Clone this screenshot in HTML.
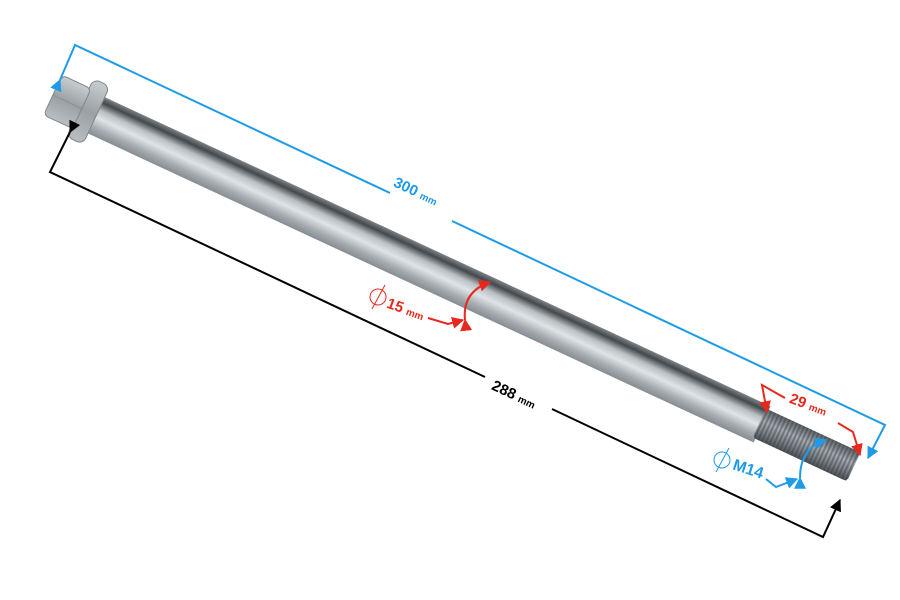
<!DOCTYPE html>
<html><head><meta charset="utf-8"><style>
html,body{margin:0;padding:0;background:#fff;}
svg{display:block;font-family:"Liberation Sans",sans-serif;font-weight:bold;}
</style></head><body>
<svg width="900" height="600" viewBox="0 0 900 600" xmlns="http://www.w3.org/2000/svg">
<defs>
<linearGradient id="rod" x1="0" y1="0" x2="0" y2="1">
<stop offset="0" stop-color="#7d8387"/>
<stop offset="0.15" stop-color="#43484c"/>
<stop offset="0.35" stop-color="#b9c0c4"/>
<stop offset="0.55" stop-color="#dfe4e6"/>
<stop offset="0.8" stop-color="#a5acb0"/>
<stop offset="1" stop-color="#868d92"/>
</linearGradient>
<linearGradient id="thr" x1="0" y1="0" x2="0" y2="1">
<stop offset="0" stop-color="#5c6166"/>
<stop offset="0.4" stop-color="#a6adb1"/>
<stop offset="0.7" stop-color="#7d8489"/>
<stop offset="1" stop-color="#4b5055"/>
</linearGradient>
<linearGradient id="hd" x1="0" y1="0" x2="0" y2="1">
<stop offset="0" stop-color="#c8cdd0"/>
<stop offset="0.5" stop-color="#9aa1a5"/>
<stop offset="1" stop-color="#b8bec1"/>
</linearGradient>
<pattern id="str" width="4" height="10" patternUnits="userSpaceOnUse">
<rect width="2" height="10" fill="#3a3e42" opacity="0.45"/>
</pattern>
<marker id="ab" viewBox="0 0 10 10" refX="9" refY="5" markerWidth="6" markerHeight="6" orient="auto"><path d="M0,0L10,5L0,10z" fill="#1e9be8"/></marker>
<marker id="ak" viewBox="0 0 10 10" refX="9" refY="5" markerWidth="6" markerHeight="6" orient="auto"><path d="M0,0L10,5L0,10z" fill="#000"/></marker>
<marker id="ar" viewBox="0 0 10 10" refX="9" refY="5" markerWidth="6" markerHeight="6" orient="auto"><path d="M0,0L10,5L0,10z" fill="#e8281e"/></marker>
</defs>

<g transform="translate(100,117) rotate(24.9)">
<rect x="-5" y="-20" width="735" height="40" fill="url(#rod)"/>
<rect x="727" y="-16" width="104" height="32" rx="4" fill="url(#thr)"/>
<rect x="727" y="-16" width="104" height="32" fill="url(#str)"/>
<rect x="-22" y="-32" width="18" height="64" rx="7" fill="url(#hd)" stroke="#80878b"/>
<rect x="-52" y="-22" width="32" height="44" rx="5" fill="url(#hd)" stroke="#80878b"/>
<line x1="-52" y1="0" x2="-20" y2="0" stroke="#8a9094"/>
</g>

<!-- blue 300 -->
<polyline points="60,80 75,45 390,193" fill="none" stroke="#1e9be8" stroke-width="2" marker-start="url(#ab)"/>
<polyline points="452,221 885,425 868,458" fill="none" stroke="#1e9be8" stroke-width="2" marker-end="url(#ab)"/>
<text x="392" y="196" font-size="15" fill="#1e9be8" transform="rotate(25 415 192)">300 <tspan font-size="10">mm</tspan></text>

<!-- black 288 -->
<polyline points="70,132 50,172 485,377" fill="none" stroke="#000" stroke-width="2" marker-start="url(#ak)"/>
<polyline points="552,409 823,537 840,500" fill="none" stroke="#000" stroke-width="2" marker-end="url(#ak)"/>
<text x="490" y="400" font-size="15" fill="#000" transform="rotate(25 515 396)">288 <tspan font-size="10">mm</tspan></text>

<!-- red 15 -->
<path d="M465,320 Q462,292 490,282" fill="none" stroke="#e8281e" stroke-width="2" marker-start="url(#ar)" marker-end="url(#ar)"/>
<polyline points="428,318 448,324 463,320" fill="none" stroke="#e8281e" stroke-width="2" marker-end="url(#ar)"/>
<circle cx="378" cy="297" r="8" fill="none" stroke="#e8281e" stroke-width="1"/>
<line x1="372" y1="309" x2="385" y2="285" stroke="#e8281e" stroke-width="1"/>
<text x="387" y="312" font-size="15" fill="#e8281e" transform="rotate(20 400 306)">15 <tspan font-size="10">mm</tspan></text>

<!-- red 29 -->
<polyline points="785,398 762,385 767,412" fill="none" stroke="#e8281e" stroke-width="2" marker-end="url(#ar)"/>
<polyline points="838,423 853,432 860,455" fill="none" stroke="#e8281e" stroke-width="2" marker-end="url(#ar)"/>
<text x="789" y="410" font-size="15" fill="#e8281e" transform="rotate(20 810 405)">29 <tspan font-size="10">mm</tspan></text>

<!-- blue M14 -->
<path d="M800,478 Q800,448 826,440" fill="none" stroke="#1e9be8" stroke-width="2" marker-start="url(#ab)" marker-end="url(#ab)"/>
<polyline points="766,479 776,487 797,479" fill="none" stroke="#1e9be8" stroke-width="2" marker-end="url(#ab)"/>
<circle cx="722" cy="460" r="8" fill="none" stroke="#1e9be8" stroke-width="1"/>
<line x1="716" y1="472" x2="729" y2="448" stroke="#1e9be8" stroke-width="1"/>
<text x="733" y="474" font-size="16" fill="#1e9be8" transform="rotate(18 748 468)">M14</text>
</svg>
</body></html>
